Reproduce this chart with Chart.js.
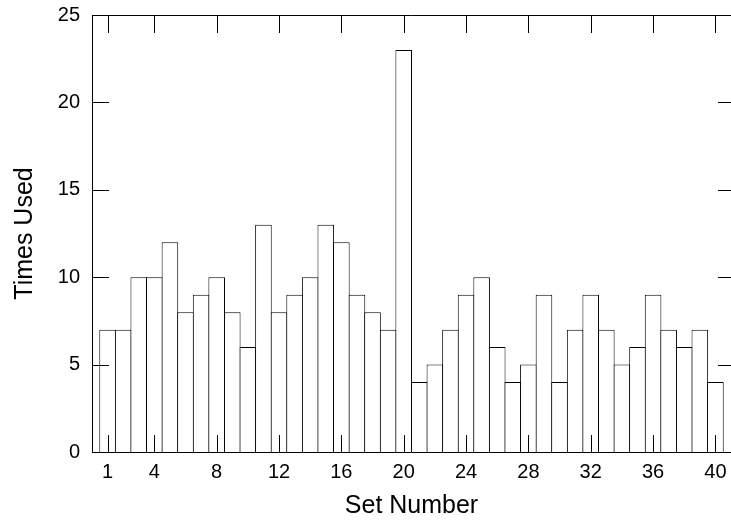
<!DOCTYPE html>
<html>
<head>
<meta charset="utf-8">
<script src="https://cdn.jsdelivr.net/npm/chart.js@4/dist/chart.umd.min.js"></script>
<style>
  html, body { margin: 0; padding: 0; background: #fff; }
</style>
</head>
<body>
<canvas id="setChart" width="731" height="523"></canvas>
<script>
const setNumbers = [];
for (let i = 1; i <= 40; i++) setNumbers.push(i);

const timesUsed = [
    7, 7, 10, 10, 12, 8, 9, 10, 8, 6,
    13, 8, 9, 10, 13, 12, 9, 8, 7, 23,
    4, 5, 7, 9, 10, 6, 4, 5, 9, 4,
    7, 9, 7, 5, 6, 9, 7, 6, 7, 4
];

const xTickValues = [1, 4, 8, 12, 16, 20, 24, 28, 32, 36, 40];
const yTickValues = [0, 5, 10, 15, 20, 25];

const fontFamily = '"Liberation Sans", Arial, Helvetica, sans-serif';

// box around the plot, with the tick marks pointing inwards
const frameTicks = {
    id: 'frameTicks',
    afterDatasetsDraw(chart) {
        const { ctx, chartArea: a, scales: { x, y } } = chart;
        const px = v => Math.round(v) + 0.5;
        ctx.save();
        ctx.strokeStyle = '#000';
        ctx.lineWidth = 1;
        ctx.beginPath();
        ctx.moveTo(a.right, px(a.top));
        ctx.lineTo(px(a.left), px(a.top));
        ctx.lineTo(px(a.left), px(a.bottom));
        ctx.lineTo(a.right, px(a.bottom));

        xTickValues.forEach(v => {
            const xp = px(x.getPixelForValue(v));
            ctx.moveTo(xp, a.bottom);
            ctx.lineTo(xp, a.bottom - 17);
            ctx.moveTo(xp, a.top);
            ctx.lineTo(xp, a.top + 18);
        });
        yTickValues.forEach(v => {
            const yp = px(y.getPixelForValue(v));
            ctx.moveTo(a.left, yp);
            ctx.lineTo(a.left + 17, yp);
            ctx.moveTo(a.right, yp);
            ctx.lineTo(a.right - 13, yp);
        });
        ctx.stroke();
        ctx.restore();
    }
};

const ctx = document.getElementById('setChart').getContext('2d');

new Chart(ctx, {
    type: 'bar',
    data: {
        datasets: [{
            label: 'Times Used',
            data: setNumbers.map((n, i) => ({ x: n, y: timesUsed[i] })),
            backgroundColor: '#fff',
            borderColor: '#000',
            borderWidth: 1,
            borderSkipped: 'start',
            inflateAmount: 0,
            // a little wider than the slot so neighbours share one edge line
            barPercentage: 1.065,
            categoryPercentage: 1
        }]
    },
    options: {
        responsive: false,
        animation: false,
        layout: {
            padding: { top: 15, left: 0, right: 0, bottom: 0 }
        },
        plugins: {
            legend: { display: false },
            tooltip: { enabled: false }
        },
        scales: {
            x: {
                type: 'linear',
                offset: false,
                min: 0,
                max: 41,
                grid: { display: false, drawTicks: false, offset: false },
                border: { display: false },
                afterBuildTicks: scale => {
                    scale.ticks = xTickValues.map(v => ({ value: v }));
                },
                afterFit: scale => {
                    scale.height = 71;
                    scale.paddingLeft = 0;
                    scale.paddingRight = 0;
                },
                ticks: {
                    color: '#000',
                    padding: 8,
                    maxRotation: 0,
                    autoSkip: false,
                    font: { family: fontFamily, size: 20 }
                },
                title: {
                    display: true,
                    text: 'Set Number',
                    color: '#000',
                    padding: { top: 0, bottom: 2 },
                    font: { family: fontFamily, size: 25 }
                }
            },
            y: {
                min: 0,
                max: 25,
                grid: { display: false, drawTicks: false },
                border: { display: false },
                afterBuildTicks: scale => {
                    scale.ticks = yTickValues.map(v => ({ value: v }));
                },
                afterFit: scale => {
                    scale.width = 92;
                    scale.paddingTop = 0;
                    scale.paddingBottom = 0;
                },
                ticks: {
                    color: '#000',
                    padding: 12,
                    font: { family: fontFamily, size: 20 }
                },
                title: {
                    display: true,
                    text: 'Times Used',
                    color: '#000',
                    padding: { top: 10, bottom: 0 },
                    font: { family: fontFamily, size: 25 }
                }
            }
        }
    },
    plugins: [frameTicks]
});
</script>
</body>
</html>
